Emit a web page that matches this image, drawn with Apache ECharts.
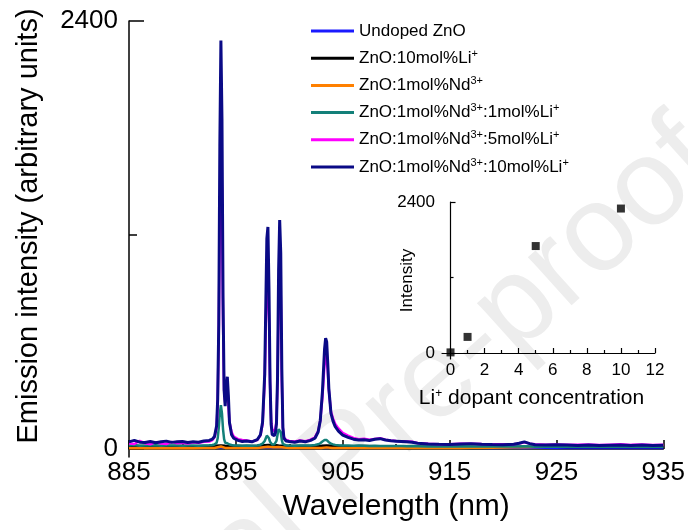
<!DOCTYPE html>
<html>
<head>
<meta charset="utf-8">
<script src="https://cdn.jsdelivr.net/npm/echarts@6/dist/echarts.min.js"></script>
<style>
html, body { margin: 0; padding: 0; background: #fff; }
#spectraChart { width: 688px; height: 530px; }
</style>
</head>
<body>
<div id="spectraChart"></div>
<script>
// wavelength grid (nm) for the three Nd:Li co-doped samples
var waveFine = [
  885, 885.5, 886, 886.5, 887, 887.5, 888, 888.5, 889, 889.5,
  890, 890.5, 891, 891.5, 892, 892.5, 892.8, 893.0, 893.2, 893.3,
  893.4, 893.5, 893.6, 893.7, 893.8, 893.9, 894.0, 894.1, 894.2, 894.3,
  894.4, 894.6, 894.8, 895.2, 895.6, 896.0, 896.5, 897.0, 897.3, 897.5,
  897.7, 897.8, 897.9, 898.0, 898.1, 898.2, 898.3, 898.4, 898.5, 898.6,
  898.7, 898.8, 898.9, 899.0, 899.1, 899.2, 899.3, 899.4, 899.5, 899.7,
  900.0, 900.5, 901.0, 901.5, 902.0, 902.4, 902.7, 902.9, 903.1, 903.3,
  903.4, 903.5, 903.6, 903.7, 903.9, 904.1, 904.3, 904.6, 905.0, 905.5,
  906, 906.5, 907, 907.5, 908, 908.5, 909, 909.5, 910, 910.5,
  911, 911.5, 912, 913, 914, 915, 916, 917, 918, 919,
  920, 921, 921.5, 922, 922.5, 923, 924, 925, 926, 927,
  928, 929, 930, 931, 932, 933, 934, 935
];
// ZnO:1mol%Nd3+:10mol%Li+
var nd1li10 = [
  40, 48, 38, 36, 42, 35, 40, 44, 37, 40,
  42, 36, 40, 38, 45, 48, 55, 70, 130, 280,
  700, 1700, 2290, 1850, 850, 330, 240, 340, 405, 300,
  150, 80, 60, 48, 42, 45, 40, 52, 80, 150,
  420, 800, 1180, 1245, 900, 380, 140, 80, 70, 75,
  90, 140, 400, 1000, 1284, 1100, 450, 120, 60, 45,
  42, 38, 45, 40, 48, 60, 95, 160, 320, 560,
  622, 600, 480, 340, 200, 155, 125, 100, 78, 65,
  55, 50, 52, 48, 55, 58, 50, 46, 44, 42,
  40, 38, 32, 28, 26, 25, 28, 30, 27, 25,
  24, 26, 32, 40, 30, 24, 22, 23, 22, 20,
  22, 20, 21, 22, 20, 22, 20, 21
];
// ZnO:1mol%Nd3+:5mol%Li+
var nd1li5 = [
  30, 28, 45, 32, 26, 38, 30, 28, 40, 32,
  35, 30, 38, 34, 40, 42, 50, 65, 120, 260,
  650, 1300, 1700, 1450, 700, 330, 260, 300, 330, 250,
  150, 95, 70, 55, 50, 48, 42, 50, 75, 140,
  380, 700, 920, 960, 740, 360, 160, 110, 105, 100,
  115, 160, 380, 820, 1000, 880, 380, 120, 65, 50,
  45, 42, 48, 44, 52, 66, 100, 160, 290, 480,
  545, 540, 440, 330, 210, 170, 140, 115, 90, 75,
  62, 55, 58, 52, 56, 60, 52, 48, 45, 44,
  42, 40, 34, 30, 27, 27, 29, 30, 28, 27,
  26, 27, 30, 38, 30, 26, 24, 25, 24, 23,
  25, 22, 24, 26, 23, 25, 22, 24
];
// ZnO:1mol%Nd3+:1mol%Li+
var nd1li1 = [
  20, 22, 18, 20, 19, 21, 18, 20, 19, 20,
  18, 20, 19, 18, 20, 21, 22, 25, 35, 60,
  120, 200, 245, 200, 110, 55, 35, 30, 32, 28,
  25, 22, 20, 19, 18, 20, 18, 20, 24, 30,
  45, 60, 75, 78, 60, 40, 30, 25, 24, 26,
  30, 45, 80, 110, 118, 95, 50, 28, 22, 20,
  19, 18, 20, 19, 20, 22, 26, 32, 42, 50,
  52, 50, 45, 38, 30, 26, 23, 21, 20, 19,
  18, 19, 18, 17, 18, 17, 16, 17, 16, 16,
  15, 16, 15, 14, 15, 14, 15, 14, 15, 14,
  14, 15, 14, 15, 14, 13, 14, 13, 14, 13,
  13, 14, 13, 14, 13, 12, 13, 12
];

// coarse grid for the weak samples
var waveCoarse = [
  885, 886, 887, 888, 889, 890, 891, 892, 893, 893.6,
  894, 895, 896, 897, 898, 898.5, 899, 900, 901, 902,
  903, 903.5, 904, 905, 906, 907, 908, 909, 910, 911,
  912, 913, 914, 915, 916, 917, 918, 919, 920, 921,
  922, 923, 924, 925, 926, 927, 928, 929, 930, 931,
  932, 933, 934, 935
];
var undoped = [
  8, 9, 8, 7, 8, 9, 8, 8, 9, 10,
  9, 8, 8, 9, 10, 9, 9, 8, 8, 9,
  9, 10, 9, 8, 8, 7, 8, 8, 7, 8,
  7, 8, 7, 7, 8, 7, 7, 6, 7, 7,
  6, 7, 7, 6, 7, 6, 7, 6, 6, 7,
  6, 7, 6, 6
];
var li10 = [
  16, 17, 15, 16, 17, 16, 15, 17, 18, 20,
  18, 17, 16, 18, 22, 22, 20, 17, 16, 17,
  18, 19, 18, 16, 15, 16, 15, 14, 15, 14,
  14, 13, 14, 13, 14, 13, 12, 13, 12, 13,
  12, 12, 13, 12, 11, 12, 11, 12, 11, 12,
  11, 12, 11, 11
];
var nd1 = [
  4, 5, 4, 5, 4, 5, 4, 5, 6, 14,
  6, 5, 5, 6, 12, 10, 11, 6, 5, 5,
  6, 9, 6, 5, 5, 6, 5, 5, 6, 5,
  6, 5, 6, 7, 6, 7, 8, 7, 8, 9,
  10, 11, 12, 12, 13, 14, 15, 16, 17, 18,
  18, 19, 20, 21
];

// inset: integrated intensity vs Li+ content
var liConc = [0, 1, 5, 10];
var liIntensity = [10, 256, 1700, 2296];

var seriesNames = [
  "Undoped ZnO",
  "ZnO:10mol%Li+",
  "ZnO:1mol%Nd3+",
  "ZnO:1mol%Nd3+:1mol%Li+",
  "ZnO:1mol%Nd3+:5mol%Li+",
  "ZnO:1mol%Nd3+:10mol%Li+"
];
var xTickLabels = [885, 895, 905, 915, 925, 935];
var xMinorTicks = [890, 900, 910, 920, 930];
var yTickLabels = [0, 2400];
var yMinorTicks = [1200];
var insetXLabels = [0, 2, 4, 6, 8, 10, 12];
var insetXMinor = [1, 3, 5, 7, 9, 11];

var colorList = ["#1a1aff", "#000000", "#ff8000", "#138079", "#ff00ff", "#0a0a86"];
var font = "Liberation Sans, Arial, sans-serif";

function pairs(xs, ys) {
  return xs.map(function (x, i) {
    return [x, ys[i]];
  });
}
// plain numbers, no thousands separator
function plain(v) {
  return String(v);
}

var chart = echarts.init(document.getElementById("spectraChart"));

var spectra = [
  [waveCoarse, undoped],
  [waveCoarse, li10],
  [waveCoarse, nd1],
  [waveFine, nd1li1],
  [waveFine, nd1li5],
  [waveFine, nd1li10]
];
var series = spectra.map(function (s, i) {
  return {
    name: seriesNames[i],
    type: "line",
    xAxisIndex: 0,
    yAxisIndex: 0,
    data: pairs(s[0], s[1]),
    showSymbol: false,
    symbol: "none",
    lineStyle: { width: i === 5 ? 3 : 2.5, color: colorList[i] },
    itemStyle: { color: colorList[i] },
    z: 2 + i
  };
});
series.push({
  type: "scatter",
  xAxisIndex: 2,
  yAxisIndex: 2,
  symbol: "rect",
  symbolSize: 8,
  itemStyle: { color: "#000" },
  data: pairs(liConc, liIntensity)
});

var axisBlack = { color: "#000", width: 1.5 };
var insetBlack = { color: "#000", width: 1.2 };

var option = {
  animation: false,
  color: colorList,
  textStyle: { fontFamily: font },
  // faint journal watermark behind everything
  graphic: [
    {
      type: "text",
      x: 347,
      y: 462,
      rotation: 0.733,
      z: -10,
      silent: true,
      style: {
        text: "Journal Pre-proof",
        fontSize: 123,
        fontFamily: font,
        fill: "#ededed",
        align: "center",
        verticalAlign: "middle"
      }
    }
  ],
  legend: {
    data: seriesNames,
    orient: "vertical",
    left: 311,
    top: 21,
    padding: 0,
    icon: "rect",
    itemWidth: 43,
    itemHeight: 3,
    itemGap: 7.2,
    selectedMode: false,
    formatter: function (name) {
      return name.replace(/3\+/g, "{sup|3+}").replace(/Li\+/g, "Li{sup|+}");
    },
    textStyle: {
      fontFamily: font,
      fontSize: 17,
      lineHeight: 20,
      color: "#000",
      rich: {
        sup: { fontSize: 11, lineHeight: 12, verticalAlign: "top", fontFamily: font, color: "#000" }
      }
    }
  },
  grid: [
    { left: 129, right: 22, top: 21, bottom: 73 },
    { left: 442, right: 33, top: 202, bottom: 171 }
  ],
  xAxis: [
    {
      gridIndex: 0,
      type: "value",
      min: 885,
      max: 935,
      axisLine: { lineStyle: axisBlack },
      axisTick: { customValues: xTickLabels, inside: true, length: 9, lineStyle: axisBlack },
      axisLabel: { customValues: xTickLabels, formatter: plain, fontSize: 26, color: "#000", margin: 3, fontFamily: font },
      splitLine: { show: false },
      name: "Wavelength (nm)",
      nameLocation: "middle",
      nameGap: 35,
      nameMoveOverlap: false,
      nameTextStyle: { fontSize: 30, color: "#000", fontFamily: font }
    },
    {
      gridIndex: 0,
      type: "value",
      position: "bottom",
      min: 885,
      max: 935,
      axisLine: { show: false },
      axisTick: { customValues: xMinorTicks, inside: true, length: 5, lineStyle: axisBlack },
      axisLabel: { show: false },
      splitLine: { show: false }
    },
    {
      gridIndex: 1,
      type: "value",
      min: -0.5,
      max: 12,
      axisLine: { lineStyle: insetBlack },
      axisTick: { customValues: insetXLabels, inside: true, length: 5, lineStyle: insetBlack },
      axisLabel: { customValues: insetXLabels, formatter: plain, fontSize: 17, color: "#000", margin: 3, fontFamily: font },
      splitLine: { show: false },
      name: "Li{sup|+} dopant concentration",
      nameLocation: "middle",
      nameGap: 29,
      nameMoveOverlap: false,
      nameTextStyle: {
        fontSize: 21,
        color: "#000",
        fontFamily: font,
        padding: [0, 34, 0, 0],
        rich: { sup: { fontSize: 12, lineHeight: 12, verticalAlign: "top", color: "#000", fontFamily: font } }
      }
    },
    {
      gridIndex: 1,
      type: "value",
      position: "bottom",
      min: -0.5,
      max: 12,
      axisLine: { show: false },
      axisTick: { customValues: insetXMinor, inside: true, length: 3, lineStyle: insetBlack },
      axisLabel: { show: false },
      splitLine: { show: false }
    }
  ],
  yAxis: [
    {
      gridIndex: 0,
      type: "value",
      min: -45,
      max: 2400,
      axisLine: { show: true, lineStyle: axisBlack },
      axisTick: { show: true, customValues: yTickLabels, inside: true, length: 15, lineStyle: axisBlack },
      axisLabel: { customValues: yTickLabels, formatter: plain, fontSize: 26, color: "#000", margin: 11, fontFamily: font },
      splitLine: { show: false },
      name: "Emission intensity (arbitrary units)",
      nameLocation: "middle",
      nameGap: 86,
      nameMoveOverlap: false,
      nameTextStyle: { fontSize: 29, color: "#000", fontFamily: font, padding: [0, 0, 0, 26] }
    },
    {
      gridIndex: 0,
      type: "value",
      position: "left",
      min: -45,
      max: 2400,
      axisLine: { show: false },
      axisTick: { show: true, customValues: yMinorTicks, inside: true, length: 8, lineStyle: axisBlack },
      axisLabel: { show: false },
      splitLine: { show: false }
    },
    {
      gridIndex: 1,
      type: "value",
      min: -95,
      max: 2400,
      axisLine: { show: true, lineStyle: insetBlack },
      axisTick: { show: true, customValues: yTickLabels, inside: true, length: 5, lineStyle: insetBlack },
      axisLabel: { customValues: yTickLabels, formatter: plain, fontSize: 17, color: "#000", margin: 7, fontFamily: font },
      splitLine: { show: false },
      name: "Intensity",
      nameLocation: "middle",
      nameGap: 26,
      nameMoveOverlap: false,
      nameTextStyle: { fontSize: 17, color: "#000", fontFamily: font }
    },
    {
      gridIndex: 1,
      type: "value",
      position: "left",
      min: -95,
      max: 2400,
      axisLine: { show: false },
      axisTick: { show: true, customValues: [1200], inside: true, length: 3, lineStyle: insetBlack },
      axisLabel: { show: false },
      splitLine: { show: false }
    }
  ],
  series: series
};

chart.setOption(option);
</script>
</body>
</html>
